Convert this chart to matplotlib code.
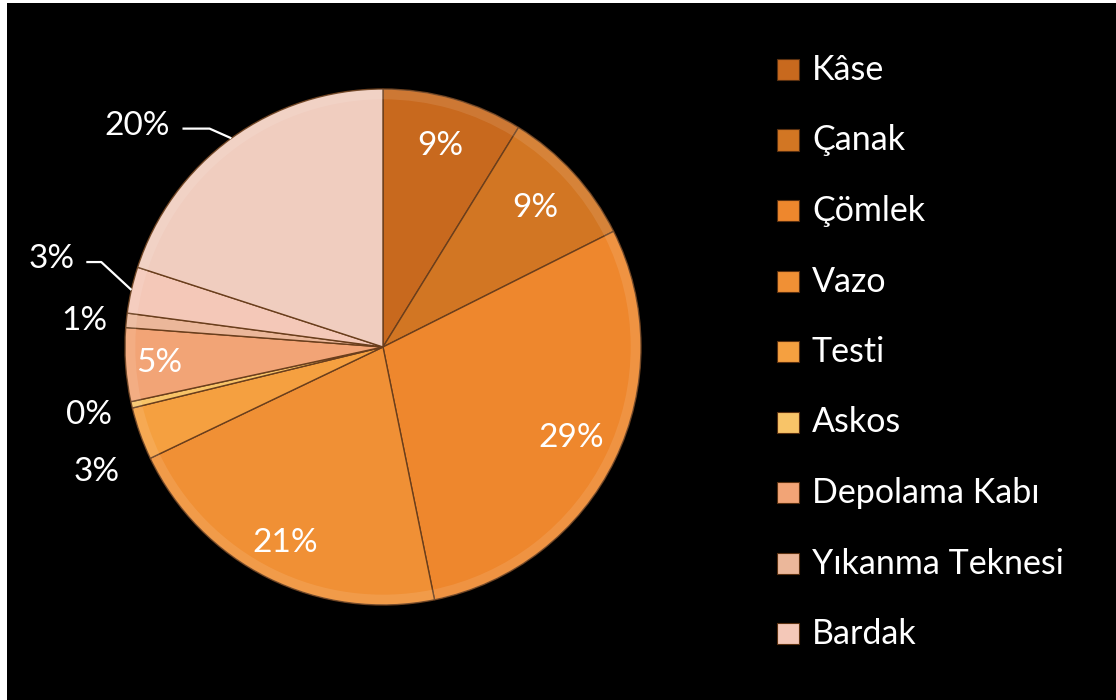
import matplotlib
matplotlib.use("Agg")
import matplotlib.pyplot as plt
from matplotlib.patches import Rectangle, Wedge
import numpy as np

plt.rcParams['font.family'] = ['Lato', 'DejaVu Sans']

# kap türlerine göre dağılım (%)
categories = ['Kâse', 'Çanak', 'Çömlek', 'Vazo', 'Testi', 'Askos',
              'Depolama Kabı', 'Yıkanma Teknesi', 'Bardak', 'Diğer']
shares = [8.8, 8.8, 29.2, 21.1, 3.3, 0.4, 4.6, 0.9, 2.9, 20.0]
colors = ['#c8691e', '#d27623', '#ee872d', '#f09035', '#f5a040',
          '#f8c468', '#f2a476', '#ebb79a', '#f4c8b8', '#f0cdbf']
legend_count = 9

# dış etiketler: indeks -> (açı kaydırma derece, yarıçap, kılavuz çizgi)
outside = {4: (4, 1.21, None), 5: (0, 1.17, None), 7: (1, 1.16, None),
           8: (-2, 1.33, (0.136, 0.058)), 9: (12, 1.28, (0.174, 0.105))}
inside_r = {0: 0.81, 1: 0.80, 2: 0.81, 3: 0.85, 6: 0.87}

W, H = 1116, 700
fig = plt.figure(figsize=(W / 100, H / 100), dpi=100, facecolor='white')
fig.patches.append(Rectangle((7 / W, 0), 1, 697 / H, transform=fig.transFigure,
                             facecolor='black', edgecolor='none', zorder=-1))

R = 258
cx, cy = 383, H - 347
lim = 1.45
side = 2 * lim * R
ax = fig.add_axes([(cx - side / 2) / W, (cy - side / 2) / H, side / W, side / H])
ax.set_facecolor('none')

wedges, _ = ax.pie(shares, colors=colors, startangle=90, counterclock=False,
                   radius=1.0, wedgeprops=dict(edgecolor='#6a3e1c', linewidth=1.0))

# hafif kabartma: dış kenarda açık şerit
for w in wedges:
    ax.add_patch(Wedge((0, 0), 1.0, w.theta1, w.theta2, width=0.04,
                       facecolor='white', edgecolor='none', alpha=0.10))

for i, w in enumerate(wedges):
    pct = f'{shares[i]:.0f}%'
    mid = np.deg2rad((w.theta1 + w.theta2) / 2)
    if i in outside:
        dang, r, leader = outside[i]
        a = mid + np.deg2rad(dang)
        tx, ty = r * np.cos(a), r * np.sin(a)
        ax.text(tx, ty, pct, color='white', fontsize=24, ha='center', va='center')
        if leader:
            gap, run = leader
            ex, ey = np.cos(mid), np.sin(mid)
            x0 = tx + gap
            ax.plot([x0, x0 + run, ex], [ty - 0.01, ty - 0.01, ey],
                    color='white', lw=1.6, solid_capstyle='butt')
    else:
        r = inside_r.get(i, 0.8)
        ax.text(r * np.cos(mid), r * np.sin(mid), pct, color='white',
                fontsize=24, ha='center', va='center')

ax.set_xlim(-lim, lim)
ax.set_ylim(-lim, lim)
ax.set_aspect('equal')

# gösterge
for k in range(legend_count):
    y = H - (70 + k * 70.5)
    fig.patches.append(Rectangle((777 / W, (y - 10) / H), 22 / W, 21 / H,
                                 transform=fig.transFigure, facecolor=colors[k],
                                 edgecolor='#5a3010', linewidth=0.8))
    fig.text(812 / W, y / H, categories[k], color='white', fontsize=24.5,
             ha='left', va='center')

fig.savefig('out.png', dpi=100, facecolor=fig.get_facecolor())
